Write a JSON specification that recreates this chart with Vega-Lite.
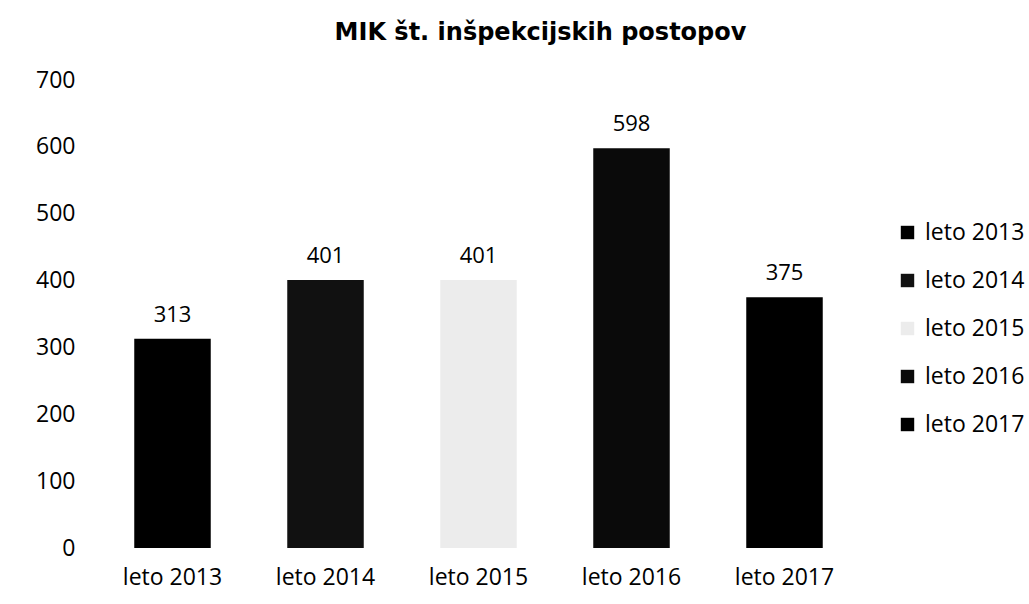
{
  "$schema": "https://vega.github.io/schema/vega-lite/v6.json",
  "autosize": "none",
  "width": 765,
  "height": 468,
  "padding": {"left": 96, "top": 80, "right": 168, "bottom": 56},
  "background": "white",
  "config": {"view": {"stroke": null}, "font": "Open Sans"},
  "title": {
    "text": "MIK št. inšpekcijskih postopov",
    "font": "DejaVu Sans",
    "fontSize": 24,
    "fontWeight": "bold",
    "color": "#000000",
    "anchor": "middle",
    "dx": 62,
    "offset": 24
  },
  "data": {
    "values": [
      {"leto": "leto 2013", "postopki": 313},
      {"leto": "leto 2014", "postopki": 401},
      {"leto": "leto 2015", "postopki": 401},
      {"leto": "leto 2016", "postopki": 598},
      {"leto": "leto 2017", "postopki": 375}
    ]
  },
  "encoding": {
    "x": {
      "field": "leto",
      "type": "nominal",
      "sort": null,
      "scale": {"paddingInner": 0.5, "paddingOuter": 0.25},
      "axis": {
        "title": null,
        "labelAngle": 0,
        "domain": false,
        "ticks": false,
        "labelFont": "Open Sans",
        "labelFontSize": 23,
        "labelColor": "#000000",
        "labelPadding": 18
      }
    },
    "y": {
      "field": "postopki",
      "type": "quantitative",
      "scale": {"domain": [0, 700]},
      "axis": {
        "title": null,
        "values": [0, 100, 200, 300, 400, 500, 600, 700],
        "domain": false,
        "ticks": false,
        "grid": false,
        "labelFont": "Open Sans",
        "labelFontSize": 23,
        "labelColor": "#000000",
        "labelPadding": 21
      }
    }
  },
  "layer": [
    {
      "mark": {"type": "bar"},
      "encoding": {
        "color": {
          "field": "leto",
          "type": "nominal",
          "sort": null,
          "scale": {
            "domain": ["leto 2013", "leto 2014", "leto 2015", "leto 2016", "leto 2017"],
            "range": ["#000000", "#111111", "#ececec", "#0a0a0a", "#000000"]
          },
          "legend": {
            "title": null,
            "orient": "none",
            "legendX": 800,
            "legendY": 141,
            "symbolType": "square",
            "symbolSize": 180,
            "symbolStrokeWidth": 0,
            "labelFont": "Open Sans",
            "labelFontSize": 23,
            "labelColor": "#000000",
            "labelOffset": 6,
            "labelLimit": 200,
            "rowPadding": 24
          }
        }
      }
    },
    {
      "mark": {"type": "text", "baseline": "bottom", "dy": -12, "fontSize": 22, "font": "Open Sans", "color": "#000000"},
      "encoding": {"text": {"field": "postopki", "type": "quantitative"}}
    }
  ]
}
